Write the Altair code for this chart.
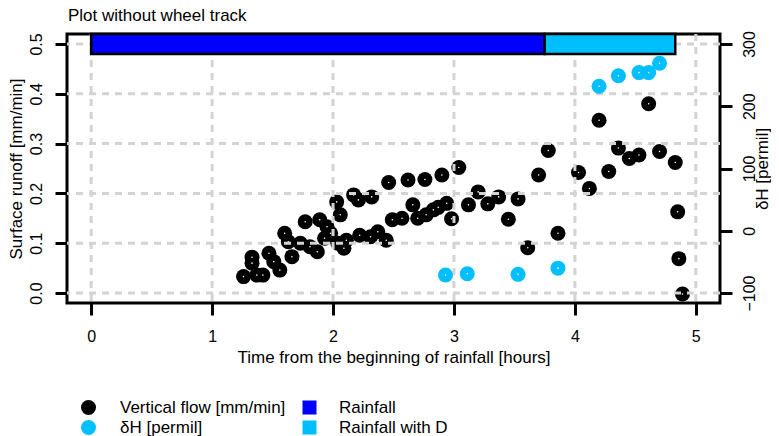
import altair as alt
import pandas as pd

# ---- data ----
flow_time = [1.26, 1.33, 1.33, 1.37, 1.42, 1.47, 1.51, 1.56, 1.60, 1.63, 1.66, 1.73, 1.77, 1.81,
             1.87, 1.89, 1.93, 1.95, 1.98, 2.03, 2.04, 2.06, 2.09, 2.11, 2.17, 2.21, 2.22, 2.31,
             2.32, 2.37, 2.44, 2.46, 2.49, 2.57, 2.62, 2.66, 2.70, 2.76, 2.77, 2.83, 2.87, 2.90,
             2.94, 2.98, 3.04, 3.12, 3.20, 3.28, 3.37, 3.45, 3.53, 3.61, 3.70, 3.78, 3.86, 4.03,
             4.12, 4.20, 4.28, 4.36, 4.45, 4.53, 4.61, 4.70, 4.83, 4.85, 4.86, 4.89]
flow_runoff = [0.033, 0.072, 0.060, 0.036, 0.036, 0.080, 0.063, 0.046, 0.120, 0.103, 0.073, 0.100,
               0.143, 0.093, 0.083, 0.147, 0.110, 0.133, 0.120, 0.183, 0.100, 0.157, 0.090, 0.106,
               0.197, 0.187, 0.116, 0.113, 0.193, 0.123, 0.106, 0.222, 0.147, 0.150, 0.227, 0.177,
               0.150, 0.228, 0.157, 0.167, 0.172, 0.237, 0.180, 0.149, 0.252, 0.177, 0.203, 0.179,
               0.193, 0.148, 0.189, 0.091, 0.237, 0.286, 0.120, 0.242, 0.210, 0.347, 0.244, 0.291,
               0.270, 0.277, 0.380, 0.284, 0.262, 0.163, 0.069, -0.002]
dh_time = [2.93, 3.11, 3.53, 3.86, 4.20, 4.36, 4.53, 4.61, 4.70]
dh_value = [-71, -69, -70, -60, 232, 249, 254, 254, 269]

series_labels = ["Vertical flow [mm/min]", "δH [permil]"]
rain_labels = ["Rainfall", "Rainfall with D"]
rain_start = [0.0, 3.75]
rain_end = [3.75, 4.83]
rain_bottom = [0.48, 0.48]
rain_top = [0.52, 0.52]

x_ticks = [0, 1, 2, 3, 4, 5]
y_ticks = [0.0, 0.1, 0.2, 0.3, 0.4, 0.5]
dh_ticks = [-100, 0, 100, 200, 300]

chart_title = "Plot without wheel track"

FONT = "Liberation Sans"
W, H = 653, 269

flow_df = pd.DataFrame({"t": flow_time, "r": flow_runoff, "series": series_labels[0]})
dh_df = pd.DataFrame({"t": dh_time, "d": dh_value, "series": series_labels[1]})
rain_df = pd.DataFrame({"t": rain_start, "t2": rain_end, "r": rain_bottom, "r2": rain_top,
                        "kind": rain_labels})
vgrid_df = pd.DataFrame({"t": x_ticks})
hgrid_df = pd.DataFrame({"r": y_ticks})
title_df = pd.DataFrame({"label": [chart_title]})

xscale = alt.Scale(domain=[-0.2, 5.2], nice=False, zero=False)
yscale = alt.Scale(domain=[-0.02, 0.52], nice=False, zero=False)
dscale = alt.Scale(domain=[-116, 316], nice=False, zero=False)

x_axis = alt.Axis(values=x_ticks, grid=False, domain=False, tickSize=12, tickWidth=3,
                  tickColor="black", labelFont=FONT, labelFontSize=16, labelColor="black",
                  labelPadding=26, labelBaseline="alphabetic", labelFlush=False,
                  title="Time from the beginning of rainfall [hours]", titleFont=FONT,
                  titleFontSize=17, titleFontWeight="normal", titleColor="black",
                  titleX=W / 2, titleY=59, titleBaseline="alphabetic", titleAlign="center")
y_axis = alt.Axis(values=y_ticks, format=".1f", grid=False, domain=False, tickSize=12,
                  tickWidth=3, tickColor="black", labelFont=FONT, labelFontSize=16,
                  labelColor="black", labelAngle=270, labelAlign="center",
                  labelBaseline="alphabetic", labelPadding=14, labelFlush=False,
                  title="Surface runoff [mm/min]", titleFont=FONT, titleFontSize=17,
                  titleFontWeight="normal", titleColor="black", titleAngle=270,
                  titleX=-46, titleY=H / 2, titleBaseline="alphabetic", titleAlign="center")
d_axis = alt.Axis(orient="right", values=dh_ticks, grid=False, domain=False, tickSize=12,
                  tickWidth=3, tickColor="black", labelFont=FONT, labelFontSize=16,
                  labelColor="black", labelAngle=270, labelAlign="center",
                  labelBaseline="alphabetic", labelPadding=22, labelFlush=False,
                  title="δH [permil]", titleFont=FONT, titleFontSize=17,
                  titleFontWeight="normal", titleColor="black", titleAngle=270,
                  titleX=47, titleY=H / 2, titleBaseline="alphabetic", titleAlign="center")

X = alt.X("t:Q", scale=xscale, axis=x_axis)
Y = alt.Y("r:Q", scale=yscale, axis=y_axis)

color_enc = alt.Color(
    "series:N",
    scale=alt.Scale(domain=series_labels, range=["black", "#00BFFF"]),
    legend=alt.Legend(orient="none", legendX=13, legendY=365, title=None, symbolType="circle",
                      symbolSize=225, symbolStrokeWidth=0, labelFont=FONT, labelFontSize=17,
                      labelColor="black", labelOffset=23, labelLimit=400, rowPadding=2,
                      padding=0),
)

PT = 225

pts = alt.Chart(flow_df).mark_circle(size=PT, opacity=1).encode(x=X, y=Y, color=color_enc)
pts_dot = alt.Chart(flow_df).mark_circle(size=2.5, opacity=1, color="white").encode(x=X, y=Y)

hgrid = alt.Chart(hgrid_df).mark_rule(color="#D3D3D3", strokeWidth=3, strokeDash=[7, 6]).encode(y=Y)
vgrid = alt.Chart(vgrid_df).mark_rule(color="#D3D3D3", strokeWidth=3, strokeDash=[7, 6]).encode(x=X)

bars = alt.Chart(rain_df).mark_rect(stroke="black", strokeWidth=2.5).encode(
    x=X, x2="t2:Q", y=Y, y2="r2:Q",
    fill=alt.Fill("kind:N", scale=alt.Scale(domain=rain_labels, range=["#0000FF", "#00BFFF"]),
                  legend=alt.Legend(orient="none", legendX=234, legendY=365, title=None,
                                    symbolType="square", symbolSize=196, symbolStrokeWidth=0,
                                    labelFont=FONT, labelFontSize=17, labelColor="black",
                                    labelOffset=21, labelLimit=400, rowPadding=2, padding=0)),
)

title_txt = alt.Chart(title_df).mark_text(
    font=FONT, fontSize=17, color="black", align="left", baseline="alphabetic"
).encode(x=alt.value(1), y=alt.value(-13), text="label:N")

YD = alt.Y("d:Q", scale=dscale, axis=d_axis)
dh_pts = alt.Chart(dh_df).mark_circle(size=PT, opacity=1).encode(x=X, y=YD, color=color_enc)
dh_dot = alt.Chart(dh_df).mark_circle(size=2.5, opacity=1, color="white").encode(x=X, y=YD)

left = alt.layer(pts, pts_dot, hgrid, vgrid, bars, title_txt)
right = alt.layer(dh_pts, dh_dot)

chart = alt.layer(left, right).resolve_scale(y="independent").properties(
    width=W, height=H,
    padding={"left": 59, "top": 26, "right": 51, "bottom": 140},
    autosize=alt.AutoSizeParams(type="none"),
).configure_view(stroke="black", strokeWidth=3)

chart.save("out.html", embed_options={"renderer": "svg", "actions": False})
